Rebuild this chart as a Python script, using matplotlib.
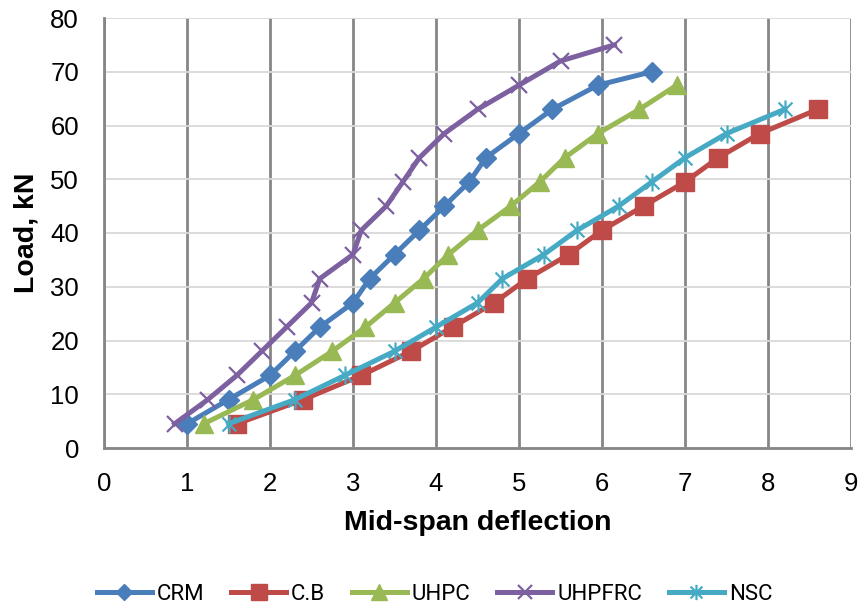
import matplotlib
matplotlib.use("Agg")
import matplotlib.pyplot as plt
from matplotlib.path import Path
import numpy as np

loads = [4.5 * i for i in range(1, 18)]

crm_x = [1.0, 1.5, 2.0, 2.3, 2.6, 3.0, 3.2, 3.5, 3.8, 4.1, 4.4, 4.6, 5.0, 5.4, 5.95, 6.6]
crm_y = loads[:15] + [70]

cb_x = [1.6, 2.4, 3.1, 3.7, 4.2, 4.7, 5.1, 5.6, 6.0, 6.5, 7.0, 7.4, 7.9, 8.6]
cb_y = loads[:14]

uhpc_x = [1.2, 1.8, 2.3, 2.75, 3.15, 3.5, 3.85, 4.15, 4.5, 4.9, 5.25, 5.55, 5.95, 6.45, 6.9]
uhpc_y = loads[:15]

uhpfrc_x = [0.85, 1.25, 1.6, 1.9, 2.2, 2.5, 2.6, 3.0, 3.1, 3.4, 3.6, 3.8, 4.1, 4.5, 5.0, 5.5, 6.15]
uhpfrc_y = loads[:16] + [75]

nsc_x = [1.5, 2.3, 2.9, 3.5, 4.0, 4.5, 4.8, 5.3, 5.7, 6.2, 6.6, 7.0, 7.5, 8.2]
nsc_y = loads[:14]

series_names = ["CRM", "C.B", "UHPC", "UHPFRC", "NSC"]
x_ticks = list(range(0, 10))
y_ticks = list(range(0, 81, 10))

# asterisk marker: X plus vertical line
ast = Path([(-1, -1), (1, 1), (-1, 1), (1, -1), (0, -1.3), (0, 1.3)],
           [Path.MOVETO, Path.LINETO, Path.MOVETO, Path.LINETO, Path.MOVETO, Path.LINETO])

plt.rcParams['font.family'] = ['Liberation Sans', 'DejaVu Sans']

fig = plt.figure(figsize=(8.61, 6.10), dpi=100)
ax = fig.add_axes([104/861, 1 - 448/610, (851-104)/861, (448-18)/610])

lw = 3.6
ax.plot(crm_x, crm_y, color='#4A7EBB', lw=lw, marker='D', ms=10, mec='#4A7EBB', mfc='#4A7EBB', label=series_names[0], zorder=3)
ax.plot(cb_x, cb_y, color='#BE4B48', lw=lw, marker='s', ms=13.5, mec='#BE4B48', mfc='#BE4B48', label=series_names[1], zorder=3)
ax.plot(uhpc_x, uhpc_y, color='#98B954', lw=lw, marker='^', ms=13, mec='#98B954', mfc='#98B954', label=series_names[2], zorder=3)
ax.plot(uhpfrc_x, uhpfrc_y, color='#7D60A0', lw=lw, marker='x', ms=12, mew=1.6, mec='#7D60A0', label=series_names[3], zorder=3)
ax.plot(nsc_x, nsc_y, color='#46AAC5', lw=lw, marker=ast, ms=13, mew=1.6, mec='#46AAC5', label=series_names[4], zorder=3)

ax.set_xlim(0, 9)
ax.set_ylim(0, 80)
ax.set_xticks(x_ticks)
ax.set_yticks(y_ticks)
ax.tick_params(length=0, labelsize=18.5)
ax.tick_params(axis='x', pad=17)
ax.tick_params(axis='y', pad=18)

ax.xaxis.grid(True, color='#868686', lw=2)
ax.yaxis.grid(True, color='#D9D9D9', lw=1.3)
ax.set_axisbelow(True)
for s in ['top', 'right']:
    ax.spines[s].set_visible(False)
for s in ['left', 'bottom']:
    ax.spines[s].set_color('#868686')
    ax.spines[s].set_linewidth(2)

ax.set_xlabel('Mid-span deflection', fontsize=20.5, fontweight='bold', labelpad=10)
ax.set_ylabel('Load, kN', fontsize=20.5, fontweight='bold', labelpad=8)

leg = fig.legend(loc='center', bbox_to_anchor=(434.5/861, 1 - 594/610), ncol=5, frameon=False,
                 prop={'family': ['Roboto', 'DejaVu Sans'], 'size': 16},
                 handlelength=2.48, columnspacing=1.2, handletextpad=0.22, markerscale=0.85)

fig.savefig('out.png', dpi=100)
